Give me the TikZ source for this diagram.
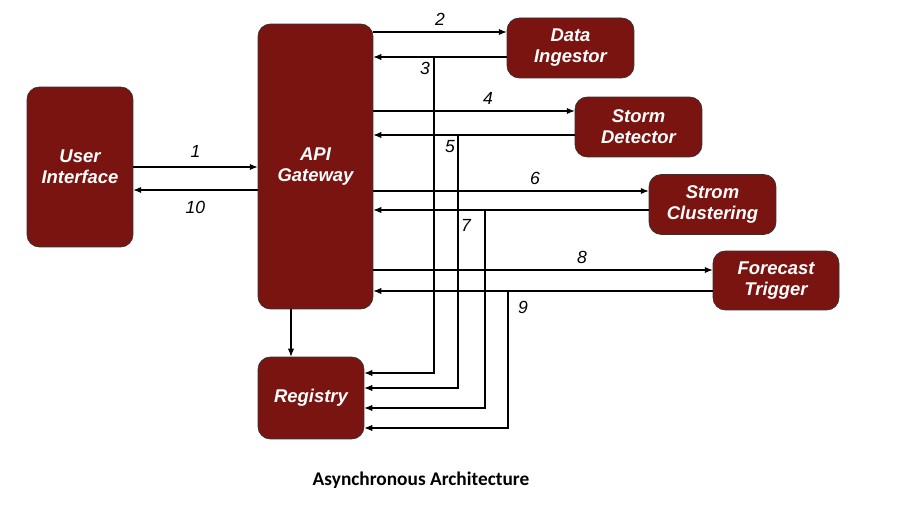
\documentclass[tikz,border=0pt]{standalone}
\usepackage{fontspec}
\setmainfont{Liberation Sans}
\newfontfamily\captionfont{Carlito}
\usepackage{tikz}
\usetikzlibrary{arrows.meta,calc}
\usepackage{xcolor}
\definecolor{boxred}{RGB}{122,20,16}

\tikzset{
  block/.style={draw=black!80,rounded corners=7pt,fill=boxred,text=white,
    font=\bfseries\itshape\fontsize{10.5}{12}\selectfont,align=center,inner sep=0pt},
  arr/.style={-{Latex[length=4.5pt,width=3.6pt]},semithick},
  num/.style={font=\itshape\fontsize{10}{12}\selectfont}
}

\begin{document}
\begin{tikzpicture}[x=0.02cm,y=-0.02cm]
\useasboundingbox (0,0) rectangle (902,509);
\node[block,minimum width=2.12cm,minimum height=3.2cm] (ui) at (80,167) {User\\Interface};
\node[block,minimum width=2.3cm,minimum height=5.7cm] (api) at (315.5,166.5) {API\\Gateway};
\node[block,minimum width=2.54cm,minimum height=1.2cm] (data) at (570.5,48) {Data\\Ingestor};
\node[block,minimum width=2.54cm,minimum height=1.2cm] (storm) at (638.5,127) {Storm\\Detector};
\node[block,minimum width=2.54cm,minimum height=1.2cm] (clus) at (712.5,204.5) {Strom\\Clustering};
\node[block,minimum width=2.52cm,minimum height=1.18cm] (fore) at (776,280.5) {Forecast\\Trigger};
\node[block,minimum width=2.12cm,minimum height=1.64cm] (reg) at (311,398) {Registry};

% user interface <-> gateway
\draw[arr] (ui.east |- 0,167) -- (api.west |- 0,167) node[num,midway,above=2pt] {1};
\draw[arr] (api.west |- 0,190) -- (ui.east |- 0,190) node[num,midway,below=3pt] {10};

% requests out of the gateway
\draw[arr] (api.east |- 0,32) -- (data.west |- 0,32) node[num,pos=0.5,above=0pt] {2};
\draw[arr] (api.east |- 0,111) -- (storm.west |- 0,111) node[num,pos=0.57,above=0pt] {4};
\draw[arr] (api.east |- 0,191) -- (clus.west |- 0,191) node[num,pos=0.587,above=0pt] {6};
\draw[arr] (api.east |- 0,270) -- (fore.west |- 0,270) node[num,pos=0.615,above=0pt] {8};

% replies back to the gateway, copied to the registry
\draw[arr] (data.west |- 0,57) -- (api.east |- 0,57);
\coordinate (j3) at (434,57);
\draw[arr] (j3) |- (reg.east |- 0,373);
\node[num] (n3) at (425,68) {3};

\draw[arr] (storm.west |- 0,135) -- (api.east |- 0,135);
\coordinate (j5) at (458,135);
\draw[arr] (j5) |- (reg.east |- 0,388);
\node[num] (n5) at (450,147) {5};

\draw[arr] (clus.west |- 0,210) -- (api.east |- 0,210);
\coordinate (j7) at (485,210);
\draw[arr] (j7) |- (reg.east |- 0,408);
\node[num] (n7) at (466,225) {7};

\draw[arr] (fore.west |- 0,291) -- (api.east |- 0,291);
\coordinate (j9) at (508,291);
\draw[arr] (j9) |- (reg.east |- 0,428);
\node[num] (n9) at (523,307) {9};

% gateway to registry
\draw[arr] (api.south -| 291,0) -- (reg.north -| 291,0);

\node[font=\captionfont\bfseries\fontsize{11}{13}\selectfont] (cap) at (421,480) {Asynchronous Architecture};
\end{tikzpicture}
\end{document}
